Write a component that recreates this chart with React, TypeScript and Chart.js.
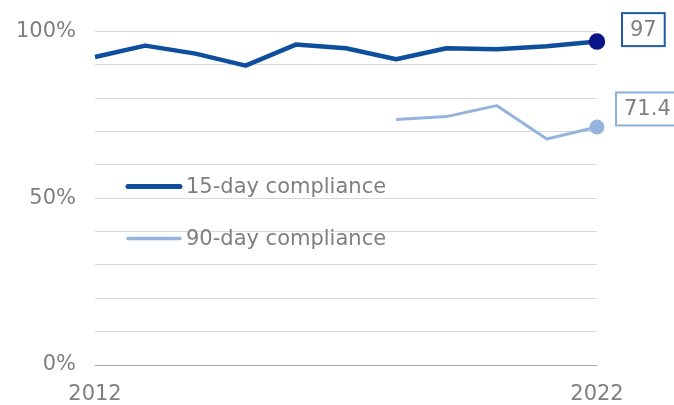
import React, { useEffect, useRef } from "react";
import { Chart, registerables } from "chart.js";

Chart.register(...registerables);

const years = ["2012", "2013", "2014", "2015", "2016", "2017", "2018", "2019", "2020", "2021", "2022"];
const day15 = [92.4, 95.8, 93.4, 89.8, 96.1, 95.0, 91.7, 95.0, 94.7, 95.6, 97];
const day90 = [null, null, null, null, null, null, 73.6, 74.5, 77.8, 67.8, 71.4];
const seriesNames = ["15-day compliance", "90-day compliance"];
const endLabels = ["97", "71.4"];
const yTickLabels = [0, 50, 100];

const DARK = "#0d4f9c";
const DARK_DOT = "#0a1687";
const LIGHT = "#95b3dc";
const GRID = "#d9d9d9";
const TEXT = "#7f7f7f";
const FONT = "DejaVu Sans";
const FS = 21;

const overlayPlugin = {
  id: "overlay",
  afterDatasetsDraw(chart: any) {
    const { ctx, chartArea } = chart;
    ctx.save();
    const legend = [
      { color: DARK, width: 5, y: 155 },
      { color: LIGHT, width: 3.5, y: 207 },
    ];
    ctx.font = `${FS}px "${FONT}"`;
    ctx.textBaseline = "middle";
    legend.forEach((l, i) => {
      const y = chartArea.top + l.y;
      const x0 = chartArea.left + 33;
      ctx.strokeStyle = l.color;
      ctx.lineWidth = l.width;
      ctx.lineCap = "round";
      ctx.beginPath();
      ctx.moveTo(x0, y);
      ctx.lineTo(x0 + 52, y);
      ctx.stroke();
      ctx.fillStyle = TEXT;
      ctx.textAlign = "left";
      ctx.fillText(seriesNames[i], x0 + 58, y + 1);
    });
    const boxes = [
      { color: "#1f5ca8", dx: 25, dy: -12, pad: 8 },
      { color: "#8eaedb", dx: 19, dy: -18, pad: 8 },
    ];
    boxes.forEach((b, i) => {
      const meta = chart.getDatasetMeta(i);
      const pt = meta.data[meta.data.length - 1];
      const text = endLabels[i];
      const w = ctx.measureText(text).width + b.pad * 2;
      const h = 33;
      const x = pt.x + b.dx;
      const cy = pt.y + b.dy;
      ctx.fillStyle = "#ffffff";
      ctx.fillRect(x, cy - h / 2, w, h);
      ctx.strokeStyle = b.color;
      ctx.lineWidth = 2;
      ctx.strokeRect(x, cy - h / 2, w, h);
      ctx.fillStyle = TEXT;
      ctx.textAlign = "left";
      ctx.fillText(text, x + b.pad, cy + 1);
    });
    ctx.restore();
  },
};

export default function App() {
  const ref = useRef<HTMLCanvasElement>(null);
  useEffect(() => {
    const last = years.length - 1;
    const chart = new Chart(ref.current!, {
      type: "line",
      data: {
        labels: years,
        datasets: [
          {
            label: seriesNames[0],
            data: day15,
            borderColor: DARK,
            borderWidth: 4.5,
            pointRadius: (c: any) => (c.dataIndex === last ? 6 : 0),
            pointBackgroundColor: DARK_DOT,
            pointBorderColor: DARK_DOT,
            borderJoinStyle: "round",
            tension: 0,
          },
          {
            label: seriesNames[1],
            data: day90,
            borderColor: LIGHT,
            borderWidth: 3,
            pointRadius: (c: any) => (c.dataIndex === last ? 6 : 0),
            pointBackgroundColor: LIGHT,
            pointBorderColor: LIGHT,
            borderJoinStyle: "round",
            tension: 0,
          },
        ],
      },
      options: {
        animation: false,
        responsive: false,
        layout: { padding: { top: 28, right: 77, left: 0, bottom: 0 } },
        plugins: { legend: { display: false }, tooltip: { enabled: false } },
        scales: {
          x: {
            offset: false,
            grid: { display: false },
            border: { display: false },
            ticks: {
              autoSkip: false,
              maxRotation: 0,
              padding: 9,
              color: TEXT,
              font: { family: FONT, size: FS },
              callback: (v: any, i: number) => (i === 0 || i === last ? years[i] : ""),
            },
            afterFit: (s: any) => {
              s.height = 40;
            },
          },
          y: {
            min: 0,
            max: 100,
            border: { display: false },
            grid: {
              color: (c: any) => (c.tick && c.tick.value === 0 ? "#a6a6a6" : GRID),
              lineWidth: 1,
              drawTicks: false,
            },
            ticks: {
              stepSize: 10,
              padding: 19,
              color: TEXT,
              font: { family: FONT, size: FS },
              callback: (v: any) => (yTickLabels.includes(v) ? v + "%" : ""),
            },
            afterFit: (s: any) => {
              s.width = 95;
            },
          },
        },
      },
      plugins: [overlayPlugin],
    } as any);
    return () => chart.destroy();
  }, []);
  return (
    <div style={{ position: "fixed", left: 0, top: 0, width: 674, height: 405, background: "#fff" }}>
      <canvas ref={ref} width={674} height={405} />
    </div>
  );
}
